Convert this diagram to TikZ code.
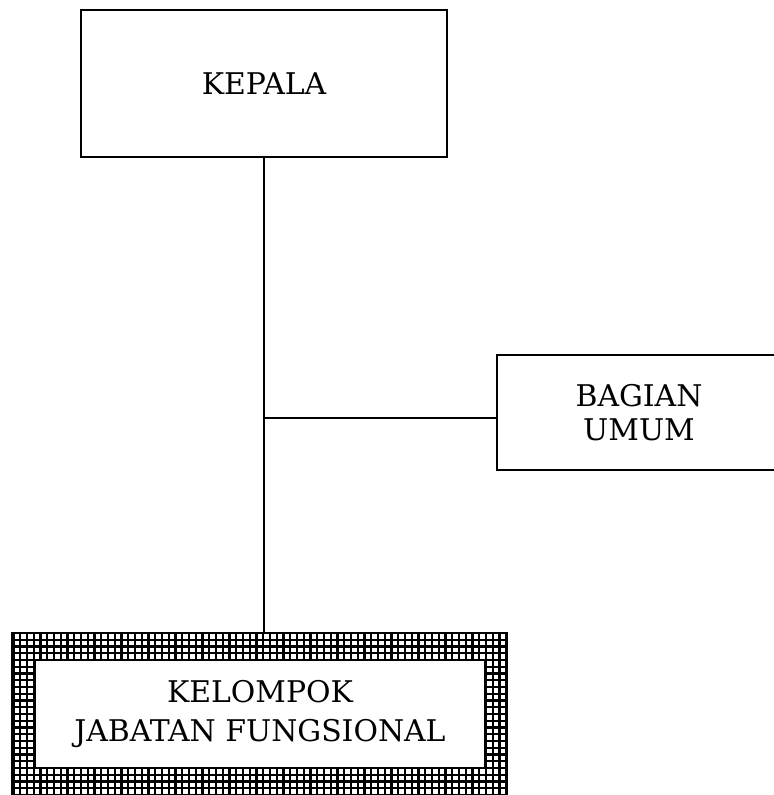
\documentclass[tikz,border=0pt]{standalone}
\usepackage{fontspec}
\setmainfont{DejaVu Serif}
\usetikzlibrary{positioning}
\tikzset{
  unit/.style={draw, line width=1.1pt, align=center, inner sep=0pt,
    font=\fontsize{17}{19.5}\selectfont},
  link/.style={line width=0.8pt},
}
\begin{document}
\begin{tikzpicture}
\useasboundingbox (0,0) rectangle (15.46,15.9);
\node[unit, minimum width=7.32cm, minimum height=2.94cm] (kepala) at (5.28,14.23) {KEPALA};
\node[unit, minimum width=5.68cm, minimum height=2.3cm] (bagian) at (12.78,7.65) {BAGIAN\\UMUM};
%\draw [fill=white] hatched frame round the last box
\node[minimum width=9.9cm, minimum height=3.34cm, inner sep=0pt] (frame) at (5.19,1.57) {};
\fill [white] (frame.south west) rectangle (frame.north east);
\begin{scope}
\clip (frame.south west) rectangle (frame.north east);
\draw [line width=0.045cm, step=0.135cm] (frame.south west) grid (frame.north east);
\end{scope}
\draw [line width=0.8pt] (frame.south west) rectangle (frame.north east);
\node[unit, fill=white, minimum width=9.0cm, minimum height=2.16cm,
  font=\fontsize{17}{22}\selectfont] (kelompok) at (5.2,1.62) {KELOMPOK\\JABATAN FUNGSIONAL};
\draw[link] (kepala.south) -- (kepala.south |- frame.north);
\coordinate (junction) at (5.28,7.54);
\draw[link] (junction) -- (junction -| bagian.west);
\end{tikzpicture}
\end{document}
